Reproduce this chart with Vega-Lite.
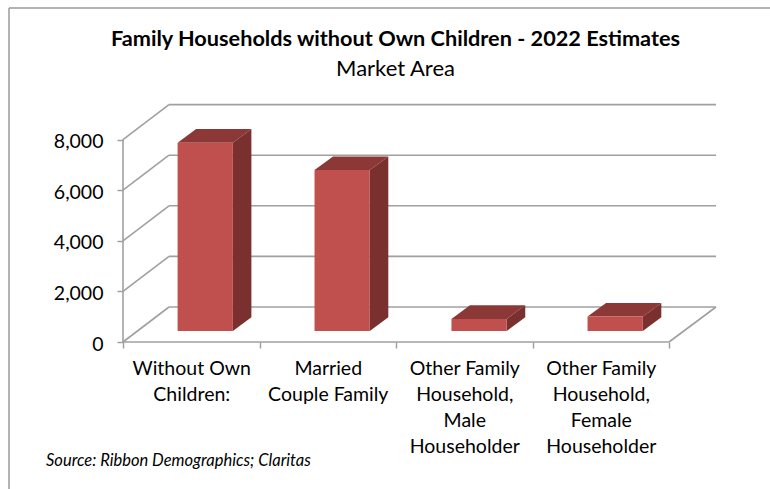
{
"$schema":"https://vega.github.io/schema/vega-lite/v6.json",
"width":593,"height":238,
"autosize":"none",
"padding":{"left":123,"top":104,"right":54,"bottom":147},
"background":"white",
"view":{"stroke":null},
"title":{"text":"Family Households without Own Children - 2022 Estimates","subtitle":"Market Area","font":"Lato","fontWeight":"bold","fontSize":21.7,"color":"#000000","subtitleFont":"Lato","subtitleFontSize":22,"subtitleColor":"#000000","subtitlePadding":9,"anchor":"middle","offset":-73,"dx":-24},
"datasets":{
"frame":[{"x":-0.835,"x2":4.74,"y":13201,"y2":13201},{"x":-0.835,"x2":-0.835,"y":13201,"y2":-5810}],
"walls":[
{"line":"axis","x":0,"x2":0,"y":0,"y2":8000},
{"line":"floor front","x":0,"x2":4,"y":0,"y2":0},
{"line":"floor right","x":4,"x2":4.344,"y":0,"y2":1383},
{"line":"0 side","x":0,"x2":0.337,"y":0,"y2":1383},
{"line":"2000 side","x":0,"x2":0.337,"y":2000,"y2":3383},
{"line":"4000 side","x":0,"x2":0.337,"y":4000,"y2":5383},
{"line":"6000 side","x":0,"x2":0.337,"y":6000,"y2":7383},
{"line":"8000 side","x":0,"x2":0.337,"y":8000,"y2":9383},
{"line":"0 back","x":0.337,"x2":4.344,"y":1383,"y2":1383},
{"line":"2000 back","x":0.337,"x2":4.344,"y":3383,"y2":3383},
{"line":"4000 back","x":0.337,"x2":4.344,"y":5383,"y2":5383},
{"line":"6000 back","x":0.337,"x2":4.344,"y":7383,"y2":7383},
{"line":"8000 back","x":0.337,"x2":4.344,"y":9383,"y2":9383}
],
"bars":[
{"category":"Without Own Children:","value":7443,"x":0.4,"x2":0.805,"base":434,"top":7877},
{"category":"Married Couple Family","value":6360,"x":1.403,"x2":1.808,"base":434,"top":6794},
{"category":"Other Family Household, Male Householder","value":480,"x":2.406,"x2":2.811,"base":434,"top":914},
{"category":"Other Family Household, Female Householder","value":570,"x":3.403,"x2":3.808,"base":434,"top":1004}
],
"sides":[
{"category":"Without Own Children:","x":0.805,"low":434,"high":7877},
{"category":"Without Own Children:","x":0.9405,"low":975,"high":8418},
{"category":"Married Couple Family","x":1.808,"low":434,"high":6794},
{"category":"Married Couple Family","x":1.9435,"low":975,"high":7335},
{"category":"Other Family Household, Male Householder","x":2.811,"low":434,"high":914},
{"category":"Other Family Household, Male Householder","x":2.9465,"low":975,"high":1455},
{"category":"Other Family Household, Female Householder","x":3.808,"low":434,"high":1004},
{"category":"Other Family Household, Female Householder","x":3.9435,"low":975,"high":1545}
],
"tops":[
{"category":"Without Own Children:","y":7877,"x":0.4,"x2":0.805},
{"category":"Without Own Children:","y":8418,"x":0.5355,"x2":0.9405},
{"category":"Married Couple Family","y":6794,"x":1.403,"x2":1.808},
{"category":"Married Couple Family","y":7335,"x":1.5385,"x2":1.9435},
{"category":"Other Family Household, Male Householder","y":914,"x":2.406,"x2":2.811},
{"category":"Other Family Household, Male Householder","y":1455,"x":2.5415,"x2":2.9465},
{"category":"Other Family Household, Female Householder","y":1004,"x":3.403,"x2":3.808},
{"category":"Other Family Household, Female Householder","y":1545,"x":3.5385,"x2":3.9435}
],
"source":[{"x":-0.564,"y":-4690,"label":"Source: Ribbon Demographics; Claritas"}]
},
"layer":[
{"data":{"name":"frame"},"mark":{"type":"rule","color":"#9a9a9a","strokeWidth":1.5,"clip":false},
 "encoding":{
  "x":{"field":"x","type":"quantitative","scale":{"domain":[0,4.344],"nice":false,"zero":false},
   "axis":{"title":null,"orient":"bottom","values":[0,1,2,3,4],"labels":false,"domain":false,"grid":false,"ticks":true,"tickSize":6,"tickColor":"#a0a0a0","tickWidth":1.5}},
  "x2":{"field":"x2"},
  "y":{"field":"y","type":"quantitative","scale":{"domain":[0,9407],"nice":false,"zero":false},
   "axis":{"title":null,"values":[0,2000,4000,6000,8000],"format":",.0f","domain":false,"grid":false,"ticks":true,"tickSize":6,"tickColor":"#a0a0a0","tickWidth":1.5,"labelFont":"Lato","labelFontSize":19.5,"labelColor":"#000000","labelPadding":14,"labelOffset":2}},
  "y2":{"field":"y2"}}},
{"data":{"name":"walls"},"mark":{"type":"rule","color":"#a0a0a0","strokeWidth":1.6},
 "encoding":{
  "x":{"field":"x","type":"quantitative",
   "axis":{"title":null,"orient":"bottom","values":[0.5,1.5,2.5,3.5],"ticks":false,"domain":false,"grid":false,"labelFont":"Lato","labelFontSize":19.5,"labelColor":"#000000","labelPadding":26,"labelLineHeight":26,"labelFlush":false,"labelOverlap":false,"labelBound":false,"labelBaseline":"middle",
   "labelExpr":"datum.value==0.5?['Without Own','Children:']:datum.value==1.5?['Married','Couple Family']:datum.value==2.5?['Other Family','Household,','Male','Householder']:['Other Family','Household,','Female','Householder']"}},
  "x2":{"field":"x2"},
  "y":{"field":"y","type":"quantitative","axis":null},
  "y2":{"field":"y2"},
  "detail":{"field":"line"}}},
{"data":{"name":"tops"},"mark":{"type":"area","orient":"horizontal","color":"#8C3836"},
 "encoding":{
  "y":{"field":"y","type":"quantitative","axis":null},
  "x":{"field":"x","type":"quantitative","axis":null},
  "x2":{"field":"x2"},
  "detail":{"field":"category"}}},
{"data":{"name":"sides"},"mark":{"type":"area","color":"#7A302E"},
 "encoding":{
  "x":{"field":"x","type":"quantitative","axis":null},
  "y":{"field":"low","type":"quantitative","axis":null},
  "y2":{"field":"high"},
  "detail":{"field":"category"}}},
{"data":{"name":"bars"},"mark":{"type":"rect","color":"#C0504D"},
 "encoding":{
  "x":{"field":"x","type":"quantitative","axis":null},
  "x2":{"field":"x2"},
  "y":{"field":"base","type":"quantitative","axis":null},
  "y2":{"field":"top"}}},
{"data":{"name":"source"},"mark":{"type":"text","font":"Lato","fontStyle":"italic","fontSize":16.5,"color":"#000000","align":"left","baseline":"middle"},
 "encoding":{
  "x":{"field":"x","type":"quantitative","axis":null},
  "y":{"field":"y","type":"quantitative","axis":null},
  "text":{"field":"label"}}}
],
"resolve":{"axis":{"x":"independent","y":"independent"}}
}
